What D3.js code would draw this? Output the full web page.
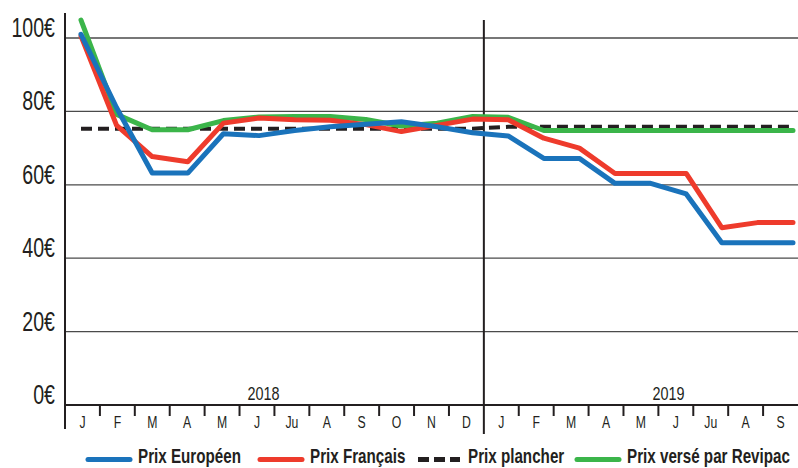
<!DOCTYPE html>
<html lang="fr">
<head>
<meta charset="UTF-8">
<title>Prix</title>
<script src="https://d3js.org/d3.v7.min.js"></script>
<style>
  body { margin: 0; background: #fff; }
  svg text { font-family: "Liberation Sans", Arial, sans-serif; fill: #231f20; }
</style>
</head>
<body>
<svg id="chart" width="798" height="468"></svg>
<script>
  // months shown on the x axis (Jan 2018 -> Sep 2019)
  var monthLabels = ["J", "F", "M", "A", "M", "J", "Ju", "A", "S", "O", "N", "D",
                     "J", "F", "M", "A", "M", "J", "Ju", "A", "S"];
  var monthYears = [2018, 2018, 2018, 2018, 2018, 2018, 2018, 2018, 2018, 2018, 2018, 2018,
                    2019, 2019, 2019, 2019, 2019, 2019, 2019, 2019, 2019];

  var prixEuropeen = [101, 81, 63.2, 63.2, 73.9, 73.4, 74.8, 75.8, 76.5, 77.2, 75.8, 74.2,
                      73.3, 67.2, 67.2, 60.4, 60.4, 57.5, 44.2, 44.2, 44.2];
  var prixFrancais = [100.5, 76.2, 67.7, 66.3, 76.8, 78.2, 77.7, 77.6, 76.4, 74.5, 76.2, 77.9,
                      77.7, 72.7, 70.0, 63.1, 63.1, 63.1, 48.3, 49.7, 49.7];
  var prixPlancher = [75.3, 75.3, 75.3, 75.3, 75.3, 75.3, 75.3, 75.3, 75.3, 75.3, 75.3, 75.3,
                      75.8, 75.8, 75.8, 75.8, 75.8, 75.8, 75.8, 75.8, 75.8];
  var prixRevipac = [104.9, 79.2, 75.0, 75.0, 77.5, 78.5, 78.6, 78.6, 77.8, 76.0, 76.8, 78.6,
                     78.4, 74.8, 74.8, 74.8, 74.8, 74.8, 74.8, 74.8, 74.8];

  var yTicks = [0, 20, 40, 60, 80, 100];
  var yearLabels = ["2018", "2019"];

  var series = [
    { name: "Prix plancher", values: prixPlancher, color: "#231f20", dash: "11,6", width: 4 },
    { name: "Prix versé par Revipac", values: prixRevipac, color: "#3bb54a", dash: null, width: 5 },
    { name: "Prix Français", values: prixFrancais, color: "#ee3b2c", dash: null, width: 5 },
    { name: "Prix Européen", values: prixEuropeen, color: "#1a73bb", dash: null, width: 5 }
  ];

  var svg = d3.select("#chart"),
      width = +svg.attr("width"),
      left = 65;

  // the original uses a condensed face, squeeze Liberation Sans instead
  function place(px, py, s) {
    return "translate(" + px + "," + py + ") scale(" + (s || 0.76) + ",1)";
  }

  var ids = monthLabels.map(function (d, i) { return i; });

  var x = d3.scaleBand().domain(ids).range([left, width]).padding(0);
  // the lines themselves run a little wider than the month bands
  var xLine = d3.scalePoint().domain(ids).range([81, 793]);
  var y = d3.scaleLinear().domain([0, 100]).range([405, 38]);

  // grid
  svg.append("g")
    .selectAll("line")
    .data(yTicks.filter(function (d) { return d > 0; }))
    .enter()
    .append("line")
    .attr("x1", left).attr("x2", width)
    .attr("y1", function (d) { return y(d); })
    .attr("y2", function (d) { return y(d); })
    .attr("stroke", "#4a4a4a")
    .attr("stroke-width", 1.3);

  // y labels
  svg.append("g")
    .selectAll("text")
    .data(yTicks)
    .enter()
    .append("text")
    .attr("transform", function (d) { return place(55, y(d) - 1, 0.7); })
    .attr("text-anchor", "end")
    .style("font-size", "28px")
    .text(function (d) { return d + "€"; });

  // baseline, y axis and year divider
  svg.append("line")
    .attr("x1", left).attr("x2", width)
    .attr("y1", y(0)).attr("y2", y(0))
    .attr("stroke", "#231f20").attr("stroke-width", 2);
  svg.append("line")
    .attr("x1", left).attr("x2", left)
    .attr("y1", 13).attr("y2", 429)
    .attr("stroke", "#231f20").attr("stroke-width", 2);
  var firstOf2019 = monthYears.indexOf(2019);
  svg.append("line")
    .attr("x1", x(firstOf2019)).attr("x2", x(firstOf2019))
    .attr("y1", 20).attr("y2", 434)
    .attr("stroke", "#231f20").attr("stroke-width", 2);

  // month ticks
  svg.append("g")
    .selectAll("line")
    .data(ids.filter(function (d) { return d > 0 && d != firstOf2019; }))
    .enter()
    .append("line")
    .attr("x1", function (d) { return x(d); })
    .attr("x2", function (d) { return x(d); })
    .attr("y1", y(0)).attr("y2", y(0) + 11)
    .attr("stroke", "#231f20").attr("stroke-width", 2);

  svg.append("g")
    .selectAll("text")
    .data(ids)
    .enter()
    .append("text")
    .attr("transform", function (d) { return place(x(d) + x.bandwidth() / 2, 428, 0.72); })
    .attr("text-anchor", "middle")
    .style("font-size", "17px")
    .text(function (d) { return monthLabels[d]; });

  // year labels sit just off the middle of each year
  svg.append("g")
    .selectAll("text")
    .data(yearLabels)
    .enter()
    .append("text")
    .attr("transform", function (d) {
      var idx = d == "2018" ? 6 : monthYears.indexOf(2019) + 5;
      return place(x(idx) + (d == "2018" ? -11 : 10), 400, 0.8);
    })
    .attr("text-anchor", "middle")
    .style("font-size", "18px")
    .text(function (d) { return d; });

  // lines
  var line = d3.line()
    .x(function (d, i) { return xLine(i); })
    .y(function (d) { return y(d); });

  svg.append("g")
    .selectAll("path")
    .data(series)
    .enter()
    .append("path")
    .attr("d", function (d) { return line(d.values); })
    .attr("fill", "none")
    .attr("stroke", function (d) { return d.color; })
    .attr("stroke-width", function (d) { return d.width; })
    .attr("stroke-dasharray", function (d) { return d.dash; })
    .attr("stroke-linecap", function (d) { return d.dash ? "butt" : "round"; })
    .attr("stroke-linejoin", "round");

  // legend
  var legendOrder = ["Prix Européen", "Prix Français", "Prix plancher", "Prix versé par Revipac"];
  var legendX = [88, 260, 418, 577];
  var legend = svg.append("g")
    .selectAll("g")
    .data(legendOrder)
    .enter()
    .append("g")
    .attr("transform", function (d, i) { return "translate(" + legendX[i] + ",0)"; });

  legend.append("line")
    .attr("x1", 0).attr("x2", 42)
    .attr("y1", 459.5).attr("y2", 459.5)
    .attr("stroke", function (d) { return series.find(function (s) { return s.name == d; }).color; })
    .attr("stroke-width", 5)
    .attr("stroke-dasharray", function (d) { return d == "Prix plancher" ? "11,5" : null; })
    .attr("stroke-linecap", function (d) { return d == "Prix plancher" ? "butt" : "round"; });

  legend.append("text")
    .attr("transform", function (d) { return place(50, 463, 0.76); })
    .style("font-size", "20px")
    .style("font-weight", "bold")
    .text(function (d) { return d; });
</script>
</body>
</html>
